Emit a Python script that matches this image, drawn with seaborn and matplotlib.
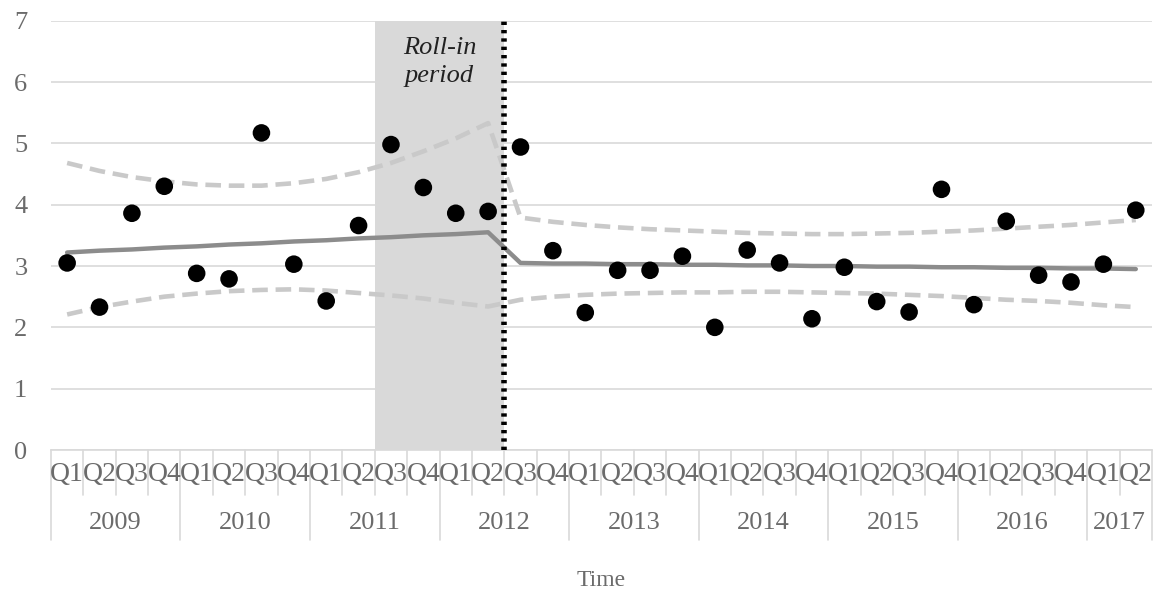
import numpy as np
import pandas as pd
import seaborn as sns
import matplotlib
matplotlib.use("Agg")
import matplotlib.pyplot as plt

sns.set_theme(style="white")
plt.rcParams['font.family'] = ['Liberation Serif', 'DejaVu Serif']

quarters = ['Q1', 'Q2', 'Q3', 'Q4'] * 8 + ['Q1', 'Q2']
years = ['2009', '2010', '2011', '2012', '2013', '2014', '2015', '2016', '2017']

# observed quarterly values
observed = [3.05, 2.33, 3.86, 4.30, 2.88, 2.79, 5.17, 3.03, 2.43, 3.66,
            4.98, 4.28, 3.86, 3.89, 4.94, 3.25, 2.24, 2.93, 2.93, 3.16,
            2.00, 3.26, 3.05, 2.14, 2.98, 2.42, 2.25, 4.25, 2.37, 3.73,
            2.85, 2.74, 3.03, 3.91]
# fitted segmented regression
fitted = [3.22, 3.25, 3.27, 3.30, 3.32, 3.35, 3.37, 3.40, 3.42, 3.45,
          3.47, 3.50, 3.52, 3.55, 3.05, 3.04, 3.04, 3.03, 3.03, 3.02,
          3.02, 3.01, 3.01, 3.00, 3.00, 2.99, 2.99, 2.98, 2.98, 2.97,
          2.97, 2.96, 2.96, 2.95]
upper = [4.68, 4.55, 4.45, 4.38, 4.33, 4.31, 4.31, 4.35, 4.42, 4.53,
         4.68, 4.87, 5.08, 5.33, 3.79, 3.72, 3.67, 3.63, 3.60, 3.58,
         3.56, 3.54, 3.53, 3.52, 3.52, 3.53, 3.54, 3.56, 3.58, 3.61,
         3.64, 3.67, 3.71, 3.75]
lower = [2.21, 2.33, 2.42, 2.50, 2.55, 2.59, 2.61, 2.62, 2.60, 2.56,
         2.52, 2.47, 2.40, 2.34, 2.45, 2.50, 2.53, 2.55, 2.56, 2.57,
         2.57, 2.58, 2.58, 2.57, 2.56, 2.55, 2.53, 2.51, 2.48, 2.45,
         2.43, 2.40, 2.36, 2.33]

df = pd.DataFrame({'t': np.arange(len(observed)), 'obs': observed,
                   'fit': fitted, 'up': upper, 'lo': lower})

txt = '#6b6b6b'
fig = plt.figure(figsize=(11.58, 5.94), dpi=100)
ax = fig.add_axes([0.044, 0.2424, 0.9508, 0.7228])

# roll-in period shading and intervention line
ax.axvspan(9.5, 13.5, color='#d9d9d9', lw=0, zorder=0)
ax.axvline(13.5, color='black', ls=(0, (0.6, 0.9)), lw=4, zorder=5)
ax.text(11.5, 6.32, 'Roll-in\nperiod', ha='center', va='center', style='italic',
        fontsize=19, color='#222222', linespacing=1.35)

sns.lineplot(data=df, x='t', y='up', ax=ax, color='#c9c9c9', lw=3.3,
             zorder=2).lines[-1].set_dashes([3.4, 1.7])
sns.lineplot(data=df, x='t', y='lo', ax=ax, color='#c9c9c9', lw=3.3,
             zorder=2).lines[-1].set_dashes([3.4, 1.7])
sns.lineplot(data=df, x='t', y='fit', ax=ax, color='#8c8c8c', lw=3.2, zorder=3)
sns.scatterplot(data=df, x='t', y='obs', ax=ax, color='black', s=160,
                edgecolor='none', zorder=6)

ax.set_xlim(-0.5, 33.5)
ax.set_ylim(0, 7)
ax.set_yticks(range(8))
ax.yaxis.grid(True, color='#d9d9d9', lw=1.2)
ax.set_axisbelow(True)
for s in ['top', 'right', 'left']:
    ax.spines[s].set_visible(False)
ax.spines['bottom'].set_color('#d9d9d9')
ax.spines['bottom'].set_linewidth(1.2)
ax.tick_params(axis='y', length=0, pad=17, labelsize=19, labelcolor=txt)
ax.set_xticks([])
ax.set_xlabel('')
ax.set_ylabel('')

# two-level category axis
tr = ax.get_xaxis_transform()
for i, q in enumerate(quarters):
    ax.text(i, -0.058, q, transform=tr, ha='center', va='center',
            fontsize=20, color=txt)
for b in np.arange(-0.5, 34, 1):
    yb = -0.21 if (b + 0.5) % 4 == 0 or b in (-0.5, 33.5) else -0.105
    ax.plot([b, b], [0, yb], transform=tr, color='#d9d9d9', lw=1.2, clip_on=False)
for k, yr in enumerate(years):
    start = 4 * k - 0.5
    end = min(start + 4, 33.5)
    ax.text((start + end) / 2, -0.17, yr, transform=tr, ha='center',
            va='center', fontsize=19, color=txt)

ax.text(0.5, -0.305, 'Time', transform=ax.transAxes, ha='center', va='center',
        fontsize=17, color=txt)

fig.savefig('out.png', dpi=100)
